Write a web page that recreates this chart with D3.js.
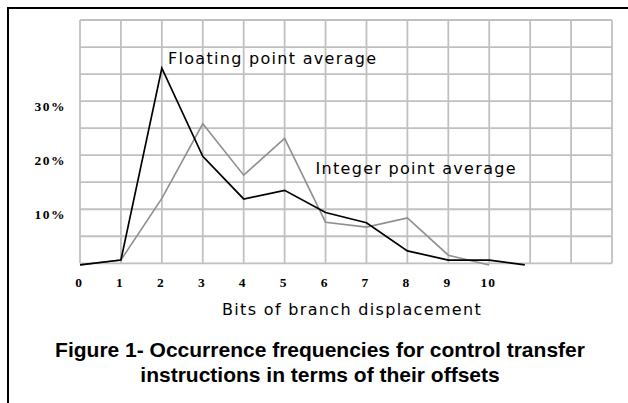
<!DOCTYPE html>
<html>
<head>
<meta charset="utf-8">
<script src="https://cdn.jsdelivr.net/npm/d3@7/dist/d3.min.js"></script>
<style>
  html, body { margin: 0; padding: 0; background: #fff; }
  svg { display: block; }
</style>
</head>
<body>
<svg id="chart" width="628" height="403"></svg>
<script>
// ---- data ----
const floatBits   = [0, 1, 2, 3, 4, 5, 6, 7, 8, 9, 10, 10.87];
const floatValues = [-0.3, 0.6, 36.1, 19.8, 11.9, 13.5, 9.4, 7.5, 2.3, 0.6, 0.6, -0.3];
const intBits     = [0, 1, 2, 3, 4, 5, 6, 7, 8, 9, 10];
const intValues   = [-0.3, 0.6, 12.0, 25.8, 16.3, 23.1, 7.6, 6.7, 8.4, 1.5, -0.3];
const xTickLabels = ["0", "1", "2", "3", "4", "5", "6", "7", "8", "9", "10"];
const yTickValues = [10, 20, 30];
const yTickLabels = ["10%", "20%", "30%"];
const floatLabel  = "Floating point average";
const intLabel    = "Integer point average";
const xTitle      = "Bits of branch displacement";
const captionLines = ["Figure 1- Occurrence frequencies for control transfer",
                      "instructions in terms of their offsets"];

// ---- layout ----
const svg = d3.select("#chart");
const x = d3.scaleLinear().domain([0, 13]).range([80, 612]);
const y = d3.scaleLinear().domain([0, 45]).range([263.3, 20]);

// frame
svg.append("path")
  .attr("d", "M8,410 L8,8 L640,8")
  .attr("fill", "none").attr("stroke", "#000").attr("stroke-width", 2);

// grid
const grid = svg.append("g");
grid.selectAll("line.v").data(d3.range(0, 14)).join("line")
  .attr("x1", d => x(d)).attr("x2", d => x(d))
  .attr("y1", y(45)).attr("y2", y(0))
  .attr("stroke", "#c0c0c0").attr("stroke-width", 1.8);
grid.selectAll("line.h").data(d3.range(0, 50, 5)).join("line")
  .attr("x1", x(0)).attr("x2", x(13))
  .attr("y1", d => y(d)).attr("y2", d => y(d))
  .attr("stroke", "#c0c0c0").attr("stroke-width", 1.8);

// lines
const line = d3.line().x(d => x(d[0])).y(d => y(d[1]));
svg.append("path")
  .datum(intBits.map((b, i) => [b, intValues[i]]))
  .attr("d", line).attr("fill", "none")
  .attr("stroke", "#8f8f8f").attr("stroke-width", 1.6).attr("stroke-linejoin", "miter");
svg.append("path")
  .datum(floatBits.map((b, i) => [b, floatValues[i]]))
  .attr("d", line).attr("fill", "none")
  .attr("stroke", "#000").attr("stroke-width", 1.7).attr("stroke-linejoin", "miter");

// y tick labels
svg.selectAll("text.ylab").data(yTickValues).join("text")
  .attr("x", 66).attr("y", d => y(d) + 9.5)
  .attr("text-anchor", "end")
  .attr("font-family", "Liberation Serif, Times New Roman, serif")
  .attr("font-weight", "bold").attr("font-size", 13.5)
  .attr("letter-spacing", 1.5)
  .text((d, i) => yTickLabels[i]);

// x tick labels
svg.selectAll("text.xlab").data(xTickLabels).join("text")
  .attr("x", (d, i) => x(i) - 1).attr("y", 286.5)
  .attr("text-anchor", "middle")
  .attr("font-family", "Liberation Serif, Times New Roman, serif")
  .attr("font-weight", "bold").attr("font-size", 13.5)
  .attr("letter-spacing", 1)
  .text(d => d);

// series labels
const sans = "DejaVu Sans, Verdana, sans-serif";
svg.append("text").attr("x", 168).attr("y", 63.5)
  .attr("font-family", sans).attr("font-size", 16).attr("letter-spacing", 1.3)
  .attr("fill", "#000").text(floatLabel);
svg.append("text").attr("x", 315.5).attr("y", 174)
  .attr("font-family", sans).attr("font-size", 16).attr("letter-spacing", 1.3)
  .attr("fill", "#000").text(intLabel);

// x axis title
svg.append("text").attr("x", 222).attr("y", 315)
  .attr("font-family", sans).attr("font-size", 16).attr("letter-spacing", 1.33)
  .attr("fill", "#000").text(xTitle);

// caption
svg.selectAll("text.cap").data(captionLines).join("text")
  .attr("x", 320).attr("y", (d, i) => 356.7 + i * 25)
  .attr("text-anchor", "middle")
  .attr("font-family", "Liberation Sans, Arial, sans-serif")
  .attr("font-weight", "bold").attr("font-size", 21)
  .attr("fill", "#000")
  .text(d => d);
</script>
</body>
</html>
